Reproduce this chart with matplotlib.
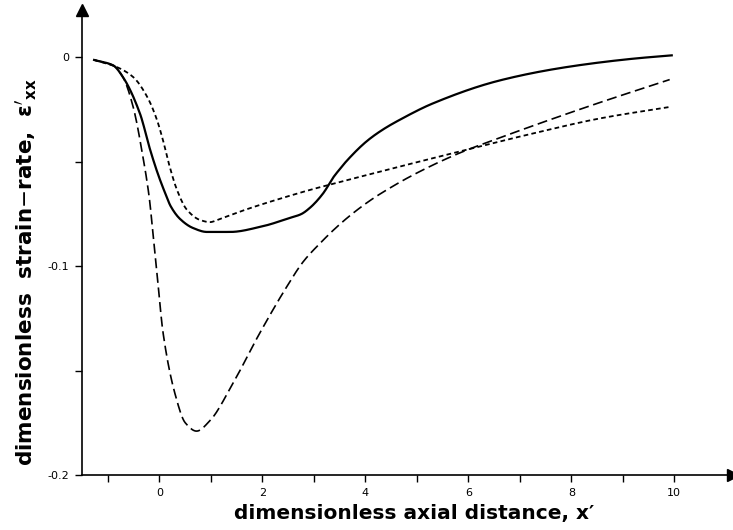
import numpy as np
import matplotlib
matplotlib.use('Agg')
import matplotlib.pyplot as plt

# curves (x', eps'_xx)
solid_x = [-1.27, -0.90, -0.71, -0.38, -0.18, -0.03, 0.10, 0.22, 0.40, 0.65, 0.92, 1.37, 2.0,
           2.53, 2.75, 2.92, 3.18, 3.37, 3.50, 3.64, 4.03, 4.34, 4.67, 5.31, 6.61, 7.91, 9.2, 9.95]
solid_y = [-0.0014, -0.004, -0.0096, -0.027, -0.0445, -0.056, -0.0645, -0.0715, -0.0775, -0.0818,
           -0.0837, -0.0837, -0.081, -0.0770, -0.0752, -0.0722, -0.0652, -0.0578, -0.0537, -0.0496,
           -0.0402, -0.0347, -0.0300, -0.0222, -0.0112, -0.0048, -0.0008, 0.0008]

short_x = [-1.27, -0.83, -0.51, -0.24, -0.05, 0.07, 0.20, 0.34, 0.53, 0.79, 0.98, 1.17, 1.70,
           2.34, 2.98, 3.21, 4.67, 5.78, 7.25, 8.55, 9.91]
short_y = [-0.0014, -0.0048, -0.0096, -0.019, -0.030, -0.040, -0.0526, -0.0636, -0.073, -0.078,
           -0.079, -0.0775, -0.0728, -0.0678, -0.0632, -0.0617, -0.0524, -0.0455, -0.0366, -0.0294,
           -0.0239]

long_x = [-1.27, -0.90, -0.71, -0.51, -0.32, -0.20, -0.12, -0.05, 0.07, 0.30, 0.5, 0.72, 0.98,
          1.43, 1.95, 2.47, 2.79, 3.12, 3.45, 3.76, 4.13, 4.48, 4.86, 5.25, 5.58, 5.97, 6.36,
          6.87, 7.39, 7.91, 8.55, 9.2, 9.91]
long_y = [-0.0014, -0.004, -0.0096, -0.024, -0.048, -0.067, -0.086, -0.103, -0.132, -0.161,
          -0.175, -0.179, -0.174, -0.156, -0.132, -0.110, -0.098, -0.0891, -0.0812, -0.0747,
          -0.0680, -0.0626, -0.0573, -0.0524, -0.0486, -0.0445, -0.0409, -0.0363, -0.0317,
          -0.0272, -0.0218, -0.0165, -0.0108]

xticks = [0, 2, 4, 6, 8, 10]
yticks = [0, -0.1, -0.2]
ytick_labels = ['0', '-0.1', '-0.2']


def smooth(xs, ys, n=500):
    # monotone cubic (PCHIP-like) through the read points
    xs = np.asarray(xs, float)
    ys = np.asarray(ys, float)
    h = np.diff(xs)
    d = np.diff(ys) / h
    m = np.zeros_like(xs)
    for k in range(1, len(xs) - 1):
        if d[k - 1] * d[k] > 0:
            w1 = 2 * h[k] + h[k - 1]
            w2 = h[k] + 2 * h[k - 1]
            m[k] = (w1 + w2) / (w1 / d[k - 1] + w2 / d[k])
    m[0] = d[0]
    m[-1] = d[-1]
    xx = np.linspace(xs[0], xs[-1], n)
    idx = np.clip(np.searchsorted(xs, xx) - 1, 0, len(xs) - 2)
    t = (xx - xs[idx]) / h[idx]
    h00 = 2 * t**3 - 3 * t**2 + 1
    h10 = t**3 - 2 * t**2 + t
    h01 = -2 * t**3 + 3 * t**2
    h11 = t**3 - t**2
    yy = h00 * ys[idx] + h10 * h[idx] * m[idx] + h01 * ys[idx + 1] + h11 * h[idx] * m[idx + 1]
    return xx, yy


fig = plt.figure(figsize=(7.33, 5.30), dpi=100)
ax = fig.add_axes([82 / 733, 55 / 530, 651 / 733, 465 / 530])

x, y = smooth(solid_x, solid_y)
ax.plot(x, y, color='black', lw=1.6)
x, y = smooth(short_x, short_y)
ax.plot(x, y, color='black', lw=1.3, dashes=(2.6, 1.8))
x, y = smooth(long_x, long_y)
ax.plot(x, y, color='black', lw=1.2, dashes=(6, 2.8))

ax.set_xlim(-1.505, 11.14)
ax.set_ylim(-0.2, 0.0225)

for s in ['top', 'right']:
    ax.spines[s].set_visible(False)
ax.spines['left'].set_linewidth(1.2)
ax.spines['bottom'].set_linewidth(1.2)
ax.plot(1, -0.2, '>k', markersize=9, transform=ax.get_yaxis_transform(), clip_on=False)
ax.plot(-1.505, 1, '^k', markersize=9, transform=ax.get_xaxis_transform(), clip_on=False)

ax.set_xticks(xticks)
ax.set_xticks([-1, 1, 3, 5, 7, 9], minor=True)
ax.set_yticks(yticks)
ax.set_yticklabels(ytick_labels)
ax.set_yticks([-0.05, -0.15], minor=True)
ax.tick_params(which='both', direction='out', length=5, width=1, labelsize=8, pad=4)

fig.text(414 / 733, 1 - 514 / 530, 'dimensionless axial distance, x\u2032', ha='center', va='center',
         fontsize=14.5, fontweight='bold')
fig.text(26 / 733, 1 - 272 / 530, r"dimensionless  strain$-$rate,  $\mathbf{\varepsilon'_{xx}}$",
         ha='center', va='center', rotation=90, fontsize=15.5, fontweight='bold')

fig.savefig('out.png', dpi=100)
